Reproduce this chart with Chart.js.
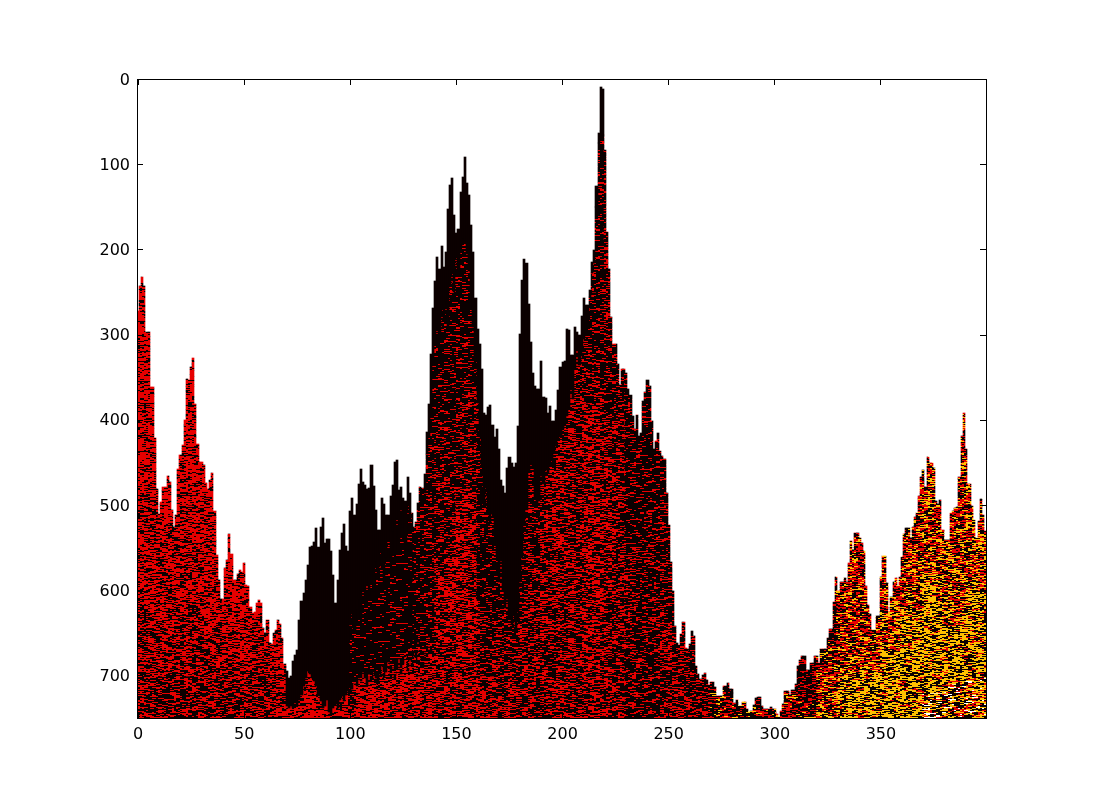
<!DOCTYPE html>
<html>
<head>
<meta charset="utf-8">
<style>
  html, body { margin: 0; padding: 0; background: #fff; }
  #chart { display: block; }
</style>
<script src="https://cdn.jsdelivr.net/npm/chart.js@4"></script>
</head>
<body>
<canvas id="chart" width="1095" height="798"></canvas>
<script>
// Column tops (image row of the first filled cell), one per column
const columnTops = [
  272,243,232,243,297,297,361,361,421,481,
  510,496,478,478,465,472,505,525,511,457,
  441,429,400,352,353,337,327,381,428,449,
  449,452,474,481,470,462,507,558,587,610,
  610,574,564,533,557,588,588,580,576,578,
  567,593,595,619,626,625,614,611,614,644,
  650,635,661,663,650,646,635,639,656,686,
  694,702,700,683,675,670,635,612,603,588,
  570,549,548,543,527,549,525,515,544,539,
  539,553,582,615,588,552,532,522,548,553,
  506,491,511,498,475,457,473,476,481,479,
  452,477,505,529,529,491,498,511,511,489,
  476,449,447,482,478,491,495,467,485,509,
  525,519,497,478,479,463,414,381,322,268,
  237,209,223,195,220,202,152,124,116,159,
  180,175,132,114,91,121,136,171,202,257,
  293,311,340,391,394,384,382,406,420,410,
  434,470,477,486,456,443,450,455,450,407,
  299,236,211,216,263,308,345,360,363,363,
  330,373,374,391,383,401,401,388,364,338,
  332,330,293,294,323,323,290,296,300,278,
  257,265,265,247,214,200,125,63,9,11,
  83,179,223,279,310,310,334,359,340,340,
  345,363,370,395,410,394,419,415,378,367,
  353,360,401,434,424,415,436,442,445,485,
  523,566,601,642,662,664,651,637,667,669,
  663,647,653,688,698,704,699,697,705,711,
  707,707,713,724,724,724,712,712,709,716,
  716,732,728,736,736,731,731,739,743,741,
  734,726,725,725,736,739,739,739,737,739,
  739,745,748,741,733,718,718,722,717,717,
  710,689,682,677,677,693,693,685,685,677,
  677,685,669,668,668,656,645,645,613,584,
  600,590,590,585,590,567,542,552,532,532,
  538,544,553,595,617,628,646,646,630,630,
  584,559,559,591,625,607,590,585,595,584,
  561,534,527,527,538,525,514,509,489,467,
  458,478,443,450,450,456,495,498,494,529,
  541,541,541,509,506,503,502,467,419,391,
  434,475,475,501,517,538,518,492,511,530
];

// Row where the solid black cap ends, columns 70 to 219
const blackEndFirst = 70;
const blackEnds = [
  735,738,735,738,730,735,728,722,712,703,
  694,698,702,706,712,722,730,738,735,728,
  742,745,738,733,738,728,724,730,722,718,
  640,628,650,622,610,632,600,615,590,605,
  580,600,565,585,555,575,590,560,540,570,
  530,555,515,540,505,525,545,500,520,490,
  510,480,495,470,450,485,440,420,390,330,
  310,290,300,270,282,260,290,240,225,250,
  210,225,195,186,190,205,225,260,290,330,
  380,420,455,500,480,505,520,510,530,560,
  590,565,600,620,610,630,640,620,645,625,
  590,560,520,505,460,450,455,490,500,495,
  465,475,458,462,450,445,438,430,423,418,
  410,405,395,385,362,375,340,318,335,320,
  305,300,290,255,227,215,150,75,60,65
];

// Row where the sparse speckle under the cap turns dense, columns 100 to 139
const denseTopFirst = 100;
const denseTops = [
  720,716,708,712,700,706,695,703,712,698,
  706,694,702,715,698,688,705,696,684,700,
  690,704,692,680,698,686,672,694,682,690,
  668,684,660,676,690,664,678,655,672,640
];

// Where the texture changes down a column, one entry per 10 columns
const edge1 = [480,520,500,540,620,640,690,715,690,725, 625,590,530,500,300,190,500,610,500,440, 340,60,400,550,500,650,720,715,720,720, 720,720,690,680,650,620,560,530,540,510];
const edge2 = [620,640,620,650,680,680,750,735,750,750, 700,700,690,660,400,360,620,680,600,540, 460,250,750,750,750,750,750,750,750,750, 750,750,720,700,690,670,620,580,640,600];
const edge3 = [700,700,700,700,710,710,750,750,750,750, 750,750,750,700,560,480,700,750,750,750, 750,380,600,750,750,750,750,750,750,750, 750,750,750,750,750,750,750,720,710,700];
const bandA = ["r5","r5","r5","r5","r5","r5","r4","k","k","k", "k","k","k","k","k","k","k","k","k","k", "k","k","r2","r1","r1","r2","r2","r2","r2","r2", "r2","r2","y0","y1","y1","y1","y1","y1","y1","y1"];
const bandB = ["r4","r4","r4","r4","r4","r4","rm","r4","r5","r4", "r0","r0","r0","r1","r1","r1","r1","r2","r2","r3", "r3","r1","r3","r2","r2","r3","r3","y0","y0","y0", "y0","y0","y1","y2","y2","y2","y2","y2","y2","y2"];
const bandC = ["rm","rm","rm","rm","rm","rm","rm","r5","r5","r4", "r4","r4","r4","r3","r2","r2","r2","r3","r3","r3", "r3","r2","r3","r2","r2","r3","r3","y0","y0","y0", "y0","y0","y2","y3","y3","y3","y3","y3","y3","y3"];
const bandD = ["r3","r3","r3","r3","r3","r3","r3","r5","r5","r4", "r4","r4","r4","r4","rm","rm","rm","r3","rm","rm", "rm","rm","rm","r2","r2","r3","r3","y0","y0","y0", "y0","y0","y2","y3","y3","y3","y3","y4","y4","y4"];

const xTickValues = [0, 50, 100, 150, 200, 250, 300, 350];
const yTickValues = [0, 100, 200, 300, 400, 500, 600, 700];

// Speckle fills: each digit of the grain picks a colour from the palette
const palettes = {
  r0: "KKKKKKKKKR", r1: "KKKKKKKKRR", r2: "KKKKKKKRRR", r3: "KKKKKKRRRR", rm: "KKKKKRRRRR", r4: "KKKKRRRRRR", r5: "KKKRRRRRRR",
  y0: "KKKKKKRRRY", y1: "KKKKRRRRYY", y2: "KKKKRRRYYY", y3: "KKKKRYYYYY", y4: "KKKKRRYYYW"
};
const cellColors = { K: "#0b0000", R: "#e60000", Y: "#ffc000", W: "#ffffff" };
const grainRows = [
  "7714402998356612008733915264479",
  "30086177254419936620588147723095511",
  "9952013368847106627439955018",
  "464721109983305576128864420397716",
  "15590372268114469903352707816624",
  "882063341975520044688193376159",
  "26641798805533120976634418820571",
  "0739915462280071638894415326",
  "5518830046729961145073382269047",
  "6302477915518866024413990752138",
  "41196605372288450739116684",
  "90025746831177396655204488136629",
  "3378120094456682217993305641",
  "728851436690017254983361120975",
  "1664093377258814500692237718435",
  "59302218874460963371155028",
  "08477156932204689115533786420",
  "2411986007735592346680179942",
  "635590824417706193328851764",
  "87142263059981634470025518396",
  "49960177325584112068873349226",
  "1205384499671126630758843",
  "7768031952240885146339917026",
  "34419658072273991605582488",
  "06627713584990243116758830249",
  "9183344205667719028855632",
  "52706618943310074482279965",
  "2889451137066529941730086",
  "67013985524417806633921148",
  "4139772056688312490075526"
];
const runLengths = [1, 2, 1, 3]; // horizontal streak length per row, in cells

function makeFill(name) {
  if (name === "k") return cellColors.K;
  const tile = document.createElement("canvas");
  tile.width = 420;
  tile.height = 210;
  const ctx = tile.getContext("2d");
  for (let r = 0; r < tile.height; r++) {
    const s = grainRows[r % grainRows.length];
    const runLength = runLengths[r % runLengths.length];
    const shift = Math.floor(r / grainRows.length) * 13;
    for (let c = 0; c < tile.width / 2; c++) {
      const digit = Number(s[(Math.floor(c / runLength) + shift) % s.length]);
      ctx.fillStyle = cellColors[palettes[name][digit]];
      ctx.fillRect(c * 2, r, 2, 1);
    }
  }
  return ctx.createPattern(tile, "repeat");
}

const fills = { k: makeFill("k") };
Object.keys(palettes).forEach(name => { fills[name] = makeFill(name); });

const rowEnd = 749.5;
const labels = columnTops.map((_, i) => String(i));
const bin = i => Math.floor(i / 10);

function edge1At(i) {
  const fine = blackEnds[i - blackEndFirst];
  return fine !== undefined ? fine : edge1[bin(i)];
}
function edge2At(i) {
  const fine = denseTops[i - denseTopFirst];
  return fine !== undefined ? fine : Math.max(edge2[bin(i)], edge1At(i));
}
function edge3At(i) {
  return Math.max(edge3[bin(i)], edge2At(i));
}

// floating bars for one texture band: [from, to] per column, skipped above the column top
function bandData(fromAt, toAt) {
  return columnTops.map((top, i) => {
    const from = Math.max(top, fromAt(i));
    const to = Math.min(rowEnd, toAt(i));
    return from < to ? [from, to] : null;
  });
}

const datasets = [
  { data: bandData(() => 0, edge1At), backgroundColor: labels.map((_, i) => fills[bandA[bin(i)]]) },
  { data: bandData(edge1At, edge2At), backgroundColor: labels.map((_, i) => fills[bandB[bin(i)]]) },
  { data: bandData(edge2At, edge3At), backgroundColor: labels.map((_, i) => fills[bandC[bin(i)]]) },
  { data: bandData(edge3At, () => rowEnd), backgroundColor: labels.map((_, i) => fills[bandD[bin(i)]]) }
];

// snap bars to whole pixels so the columns stay crisp like image cells
const snapBars = {
  id: "snapBars",
  beforeDatasetsDraw(chart) {
    chart.getSortedVisibleDatasetMetas().forEach(meta => {
      meta.data.forEach(el => {
        const left = Math.round(el.x - el.width / 2);
        const right = Math.round(el.x + el.width / 2);
        el.x = (left + right) / 2;
        el.width = right - left;
        el.y = Math.round(el.y);
        el.base = Math.round(el.base);
      });
    });
  }
};

const tickFont = { family: "'DejaVu Sans'", size: 16 };
const frame = { color: "#000", z: 1, offset: false, drawOnChartArea: false, tickLength: -6, tickColor: "#000", lineWidth: 1 };
const border = { color: "#000", width: 1, z: 2 };

new Chart(document.getElementById("chart").getContext("2d"), {
  type: "bar",
  data: { labels, datasets },
  plugins: [snapBars],
  options: {
    responsive: false,
    animation: false,
    events: [],
    grouped: false,
    barPercentage: 1,
    categoryPercentage: 1,
    layout: { padding: { top: 79, right: 109, bottom: 0, left: 0 } },
    plugins: { legend: { display: false }, tooltip: { enabled: false }, title: { display: false } },
    scales: {
      x: {
        type: "category",
        position: "bottom",
        border,
        grid: frame,
        afterBuildTicks: s => { s.ticks = xTickValues.map(v => ({ value: v })); },
        afterFit: s => { s.height = 80; },
        ticks: { color: "#000", font: tickFont, padding: 13, maxRotation: 0, autoSkip: false }
      },
      xTop: {
        type: "category",
        position: "top",
        border,
        grid: frame,
        afterBuildTicks: s => { s.ticks = xTickValues.map(v => ({ value: v })); },
        afterFit: s => { s.height = 0; },
        ticks: { display: false, autoSkip: false }
      },
      y: {
        type: "linear",
        position: "left",
        reverse: true,
        min: -0.5,
        max: rowEnd,
        border,
        grid: frame,
        afterBuildTicks: s => { s.ticks = yTickValues.map(v => ({ value: v })); },
        afterFit: s => { s.width = 137; },
        ticks: { color: "#000", font: tickFont, padding: 13, labelOffset: 1 }
      },
      yRight: {
        type: "linear",
        position: "right",
        reverse: true,
        min: -0.5,
        max: rowEnd,
        border,
        grid: frame,
        afterBuildTicks: s => { s.ticks = yTickValues.map(v => ({ value: v })); },
        afterFit: s => { s.width = 0; },
        ticks: { display: false }
      }
    }
  }
});
</script>
</body>
</html>
